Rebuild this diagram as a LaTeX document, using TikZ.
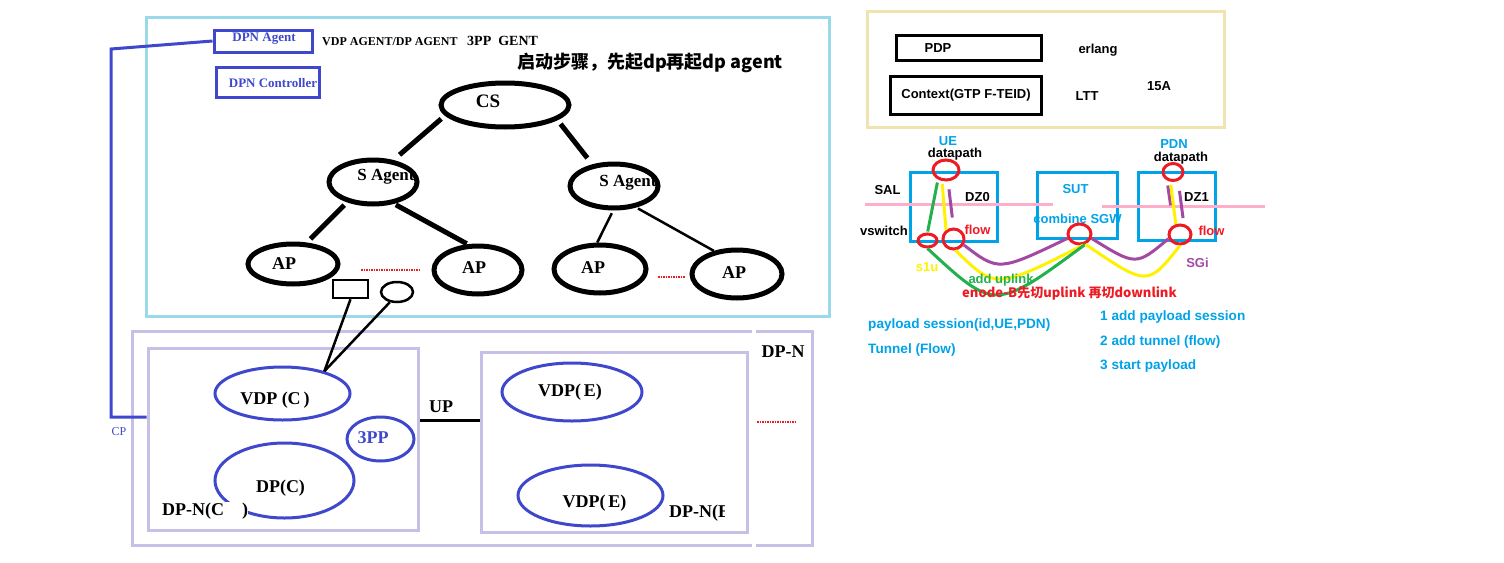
\documentclass[tikz,border=0pt]{standalone}
\usepackage{fontspec}
\setmainfont{Liberation Serif}
\newfontfamily\sansfont{Liberation Sans}
\newfontfamily\cjkfont{Noto Sans CJK SC}
\usetikzlibrary{shapes.geometric}

\definecolor{tealline}{HTML}{99D9EA}
\definecolor{lavline}{HTML}{C8BFE7}
\definecolor{dpnblue}{HTML}{3F48CC}
\definecolor{tanline}{HTML}{EFE4B0}
\definecolor{cyanline}{HTML}{00A2E8}
\definecolor{redline}{HTML}{ED1C24}
\definecolor{pinkline}{HTML}{FFAEC9}
\definecolor{grnline}{HTML}{22B14C}
\definecolor{ylwline}{HTML}{FFF200}
\definecolor{purline}{HTML}{A349A4}

\tikzset{
  boxline/.style={draw, rectangle, inner sep=0pt, line width=3pt},
  treeell/.style={draw, ellipse, inner sep=0pt, line width=5pt},
  vdpell/.style={draw=dpnblue, ellipse, inner sep=0pt, line width=3pt},
  ring/.style={draw=redline, ellipse, inner sep=0pt, line width=3pt},
  serifbf/.style={inner sep=0pt, font=\fontsize{18}{20}\selectfont\bfseries},
  sansbf/.style={inner sep=0pt, font=\sansfont\fontsize{13}{15}\selectfont\bfseries},
  notebf/.style={inner sep=0pt, anchor=west, text=cyanline, font=\sansfont\fontsize{13.6}{15}\selectfont\bfseries},
  cjkbf/.style={inner sep=0pt, font=\cjkfont\bfseries},
  wire/.style={line width=3pt},
  reddots/.style={draw=redline, line width=2.5pt, dash pattern=on 1.5pt off 1pt},
}

\begin{document}
\begin{tikzpicture}[x=1pt, y=-1pt]
\useasboundingbox (0,0) rectangle (1504,562);

% control plane
\node[boxline, draw=tealline, minimum width=683pt, minimum height=299pt] (ctrl) at (487.5,166.5) {};
\node[boxline, draw=dpnblue, minimum width=98pt, minimum height=22pt] (agent) at (263,41) {};
\node[boxline, draw=dpnblue, minimum width=103pt, minimum height=30pt] (ctrlr) at (267.5,82) {};
\node[inner sep=0pt, text=dpnblue, font=\fontsize{13}{15}\selectfont\bfseries] (agentlbl) at (264,39) {DPN Agent};
\node[inner sep=0pt, text=dpnblue, font=\fontsize{13}{15}\selectfont\bfseries] (ctrlrlbl) at (273,83) {DPN Controller};
\node[inner sep=0pt, anchor=west, font=\fontsize{12}{14}\selectfont\bfseries] (vdpagent) at (322,42) {VDP AGENT/DP AGENT};
\node[inner sep=0pt, anchor=west, font=\fontsize{14}{16}\selectfont\bfseries] (ppgent) at (467,41) {3PP\ \ GENT};
\node[cjkbf, anchor=west, font=\cjkfont\fontsize{18}{20}\selectfont\bfseries] (startup) at (517,63) {启动步骤，先起dp再起dp agent};

\node[treeell, minimum width=128pt, minimum height=44pt] (cs) at (505,105) {};
\node[treeell, minimum width=88pt, minimum height=44pt] (sagl) at (373,182) {};
\node[treeell, minimum width=88pt, minimum height=44pt] (sagr) at (614,186) {};
\node[treeell, minimum width=90pt, minimum height=40pt] (ap1) at (293,264) {};
\node[treeell, minimum width=88pt, minimum height=48pt] (ap2) at (478,270) {};
\node[treeell, minimum width=92pt, minimum height=48pt] (ap3) at (600,269) {};
\node[treeell, minimum width=90pt, minimum height=48pt] (ap4) at (737,274) {};
\node[serifbf, font=\fontsize{19}{21}\selectfont\bfseries] (cslbl) at (488,101) {CS};
\node[serifbf, font=\fontsize{17}{19}\selectfont\bfseries] (sagllbl) at (386,177) {S Agent};
\node[serifbf, font=\fontsize{17}{19}\selectfont\bfseries] (sagrlbl) at (628,183) {S Agent};
\node[serifbf] (ap1lbl) at (284,264) {AP};
\node[serifbf] (ap2lbl) at (474,268) {AP};
\node[serifbf] (ap3lbl) at (593,268) {AP};
\node[serifbf] (ap4lbl) at (734,273) {AP};

\draw[line width=5pt, shorten <=5pt, shorten >=8pt] (cs.190) -- (sagl.47);
\draw[line width=5pt, shorten <=5pt, shorten >=8pt] (cs.344) -- (sagr.135);
\draw[line width=5pt, shorten <=4pt, shorten >=5pt] (sagl.218) -- (ap1.57);
\draw[line width=5pt, shorten <=2pt, shorten >=1pt] (sagl.314) -- (ap2.112);
\draw[line width=2.5pt, shorten <=3pt] (sagr.268) -- (ap3.96);
\draw[line width=2.5pt, shorten <=2pt] (sagr.316) -- (ap4.135);
\draw[reddots] (361,270) -- (420,270);
\draw[reddots] (658,277) -- (685,277);

\node[draw, line width=2.5pt, inner sep=0pt, minimum width=35pt, minimum height=18pt] (sq) at (350.5,289) {};
\node[draw, ellipse, line width=2.5pt, inner sep=0pt, minimum width=32pt, minimum height=20pt] (blob) at (397,292) {};

% data plane
\node[boxline, draw=lavline, minimum width=680pt, minimum height=214pt] (dpn) at (472,438) {};
\draw[white, line width=4pt] (754,325) -- (754,551);
\node[boxline, draw=lavline, minimum width=270pt, minimum height=182pt] (dpnc) at (283,439) {};
\node[boxline, draw=lavline, minimum width=266pt, minimum height=180pt] (dpne) at (614,442) {};
\node[vdpell, minimum width=135pt, minimum height=53pt] (vdpc) at (282.5,393.5) {};
\node[vdpell, minimum width=67pt, minimum height=44pt] (tpp) at (380.5,439) {};
\node[vdpell, minimum width=139pt, minimum height=75pt] (dpc) at (284.5,480.5) {};
\node[vdpell, minimum width=140pt, minimum height=58pt] (vdpe1) at (572,392) {};
\node[vdpell, minimum width=145pt, minimum height=61pt] (vdpe2) at (590.5,495.5) {};
\node[serifbf] (vdpclbl) at (275,400) {VDP (C\,)};
\node[serifbf, text=dpnblue] (tpplbl) at (373,438) {3PP};
\node[serifbf] (dpclbl) at (280.5,488) {DP(C)};
\node[serifbf, anchor=west, fill=white, inner ysep=1pt] (dpnclbl) at (162,511) {DP-N(C\ \ \ \ )};
\node[serifbf] (vdpe1lbl) at (570,392) {VDP(\,E)};
\node[serifbf] (vdpe2lbl) at (594.5,503) {VDP(\,E)};
\begin{scope}
  \clip (660,495) rectangle (724,535);
  \node[serifbf, anchor=west] (dpnelbl) at (669,513) {DP-N(E};
\end{scope}
\node[serifbf] (dpnlbl) at (783,352) {DP-N};
\node[serifbf] (uplbl) at (441,407) {UP};
\node[inner sep=0pt, text=dpnblue, font=\fontsize{12}{14}\selectfont] (cplbl) at (119,432) {CP};
\draw[reddots] (757,422) -- (795,422);

\coordinate (upy) at (0,420);
\draw[wire] (upy -| dpnc.east) -- (upy -| dpne.west);
\draw[line width=2.5pt] (sq.south) -- (vdpc.28);
\draw[line width=2.5pt] (blob.235) -- (vdpc.28);

\coordinate (cpbend) at (111,49);
\coordinate (cpfoot) at (111,417);
\draw[dpnblue, wire] (agent.west) -- (cpbend) -- (cpfoot) -- (cpfoot -| dpnc.west);

% notes
\node[boxline, draw=tanline, minimum width=357pt, minimum height=116pt] (notes) at (1045.5,69) {};
\node[boxline, minimum width=145pt, minimum height=25pt] (pdp) at (968.5,47.5) {};
\node[boxline, minimum width=151pt, minimum height=38pt, sansbf, font=\sansfont\fontsize{13}{15}\selectfont\bfseries] (ctx) at (966,95) {Context(GTP F-TEID)};
\node[sansbf] (pdplbl) at (938,48) {PDP};
\node[sansbf] (erlang) at (1098,50) {erlang};
\node[sansbf] (ltt) at (1087,96) {LTT};
\node[sansbf] (ver) at (1159,86) {15A};

% datapath
\node[boxline, draw=cyanline, minimum width=87pt, minimum height=69pt] (dz0) at (953.5,206.5) {};
\node[boxline, draw=cyanline, minimum width=80pt, minimum height=66pt] (sut) at (1077,205) {};
\node[boxline, draw=cyanline, minimum width=77pt, minimum height=68pt] (dz1) at (1176.5,206) {};
\draw[pinkline, wire] (865,204) -- (1053,204);
\draw[pinkline, wire] (1102,206) -- (1265,206);

\node[sansbf, text=cyanline] (uelbl) at (948,141) {UE};
\node[sansbf] (dpl) at (955,154) {datapath};
\node[sansbf, text=cyanline] (pdnlbl) at (1174,144) {PDN};
\node[sansbf] (dpr) at (1181,158) {datapath};
\node[sansbf] (sal) at (887.5,190) {SAL};
\node[sansbf] (dz0lbl) at (977.5,197) {DZ0};
\node[sansbf, text=cyanline] (sutlbl) at (1075.5,189) {SUT};
\node[sansbf] (dz1lbl) at (1196.5,197) {DZ1};
\node[sansbf] (vswlbl) at (884,231) {vswitch};
\node[sansbf, text=redline] (flowllbl) at (977.5,230) {flow};
\node[sansbf, text=redline] (flowrlbl) at (1211.5,231) {flow};
\node[sansbf, text=cyanline] (sgwlbl) at (1077.5,219) {combine SGW};
\node[sansbf, text=ylwline] (s1u) at (927,267) {s1u};
\node[sansbf, text=purline] (sgi) at (1197.5,263) {SGi};

\node[ring, minimum width=26pt, minimum height=20pt] (ue) at (946,170) {};
\node[ring, minimum width=20pt, minimum height=17pt] (pdn) at (1173,172) {};
\node[ring, minimum width=19pt, minimum height=13pt] (vsw) at (927.5,240.5) {};
\node[ring, minimum width=21pt, minimum height=20pt] (flowl) at (953.5,239) {};
\node[ring, minimum width=23pt, minimum height=20pt] (sgw) at (1079.5,234) {};
\node[ring, minimum width=22pt, minimum height=19pt] (flowr) at (1180,234.5) {};

\draw[grnline, wire, shorten <=3pt, shorten >=1pt] (ue.230) -- (vsw.north);
\draw[ylwline, wire, shorten <=3pt] (ue.250) -- (flowl.130);
\draw[purline, wire, shorten <=8pt, shorten >=10pt] (ue.280) -- (flowl.north);
\draw[purline, wire, shorten <=5pt, shorten >=20pt] (pdn.235) -- (flowr.125);
\draw[ylwline, wire, shorten <=3pt] (pdn.255) -- (flowr.112);
\draw[purline, wire, shorten <=10pt, shorten >=6pt] (pdn.300) -- (flowr.70);

\draw[purline, wire] (flowl.-30) .. controls (998.5,271.5) .. (sgw.200);
\draw[ylwline, wire] (flowl.-80) .. controls (995.5,289.5) .. (sgw.-70);
\draw[grnline, wire] (vsw.south) .. controls (995,311) .. (sgw.-60);
\draw[purline, wire] (sgw.-20) .. controls (1136,266) .. (flowr.200);
\draw[ylwline, wire] (sgw.-60) .. controls (1147.5,286.5) .. (flowr.south);

\node[sansbf, text=grnline] (adduplink) at (1001,280) {add uplink};
\node[cjkbf, anchor=west, text=redline, font=\cjkfont\fontsize{13}{15}\selectfont\bfseries] (enodeb) at (962,293) {enode-B先切uplink 再切downlink};

\node[notebf] (sess) at (868,325) {payload session(id,UE,PDN)};
\node[notebf] (tunnel) at (868,350) {Tunnel (Flow)};
\node[notebf] (step1) at (1100,317) {1 add payload session};
\node[notebf] (step2) at (1100,342) {2 add tunnel (flow)};
\node[notebf] (step3) at (1100,366) {3 start payload};
\end{tikzpicture}
\end{document}
